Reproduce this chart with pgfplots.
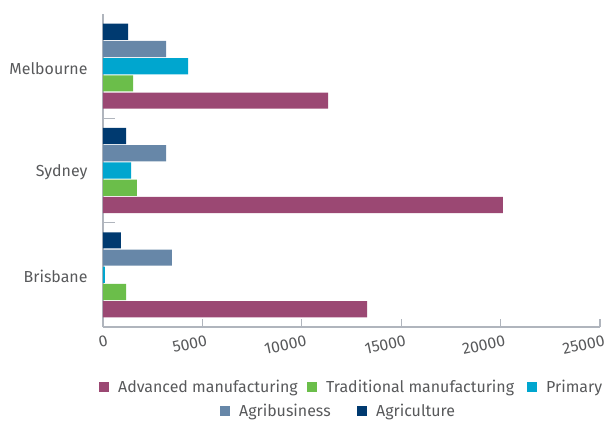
\documentclass[border=0pt]{standalone}
\usepackage{pgfplots}
\pgfplotsset{compat=1.18}
\usepackage{fontspec}
\setmainfont{Fira Sans}
\definecolor{cadv}{RGB}{155,72,115}
\definecolor{ctrad}{RGB}{107,190,74}
\definecolor{cprim}{RGB}{0,166,207}
\definecolor{cagb}{RGB}{103,135,168}
\definecolor{cagr}{RGB}{0,58,112}
\definecolor{ctext}{RGB}{88,89,91}
\definecolor{caxis}{RGB}{176,181,189}
\begin{document}
\begin{tikzpicture}
\begin{axis}[
  at={(0,0)}, anchor=south west,
  scale only axis, width=497bp, height=313bp,
  xbar, bar width=0.155,
  xmin=0, xmax=25000,
  ymin=-0.5, ymax=2.5,
  axis x line*=bottom, axis y line*=left,
  axis line style={caxis, line width=1.2pt},
  every tick/.style={caxis, line width=1.2pt},
  tick align=inside,
  major tick length=12bp,
  xtick=\empty,
  extra x ticks={0,5000,10000,15000,20000,25000},
  extra x tick style={major tick length=8bp, tick style={caxis, line width=1.2pt},
    xticklabel style={rotate=12, anchor=north east, xshift=5bp, yshift=-5bp, font=\fontsize{16}{19}\selectfont, text=ctext}},
  scaled x ticks=false,
  /pgf/number format/assume math mode=true,
  /pgf/number format/set thousands separator={},
  ytick={0.5,1.5},
  yticklabels={},
  extra y ticks={0,1,2},
  extra y tick labels={Brisbane,Sydney,Melbourne},
  extra y tick style={tick style={draw=none}, yticklabel style={font=\fontsize{16}{19}\selectfont, text=ctext, xshift=-12bp, yshift=-2bp}},
  clip=false,
]
\addplot[fill=cadv, draw=none, bar shift=-0.33] coordinates {(13280,0) (20120,1) (11320,2)};
\addplot[fill=ctrad, draw=none, bar shift=-0.165] coordinates {(1160,0) (1710,1) (1510,2)};
\addplot[fill=cprim, draw=none, bar shift=0] coordinates {(100,0) (1410,1) (4280,2)};
\addplot[fill=cagb, draw=none, bar shift=0.165] coordinates {(3470,0) (3170,1) (3170,2)};
\addplot[fill=cagr, draw=none, bar shift=0.33] coordinates {(905,0) (1160,1) (1260,2)};
\end{axis}
\begin{scope}[every node/.style={anchor=base west, inner sep=0pt, text=ctext, font=\fontsize{16}{19}\selectfont}]
\node at (-4bp,-65bp) {\textcolor{cadv}{\rule{10bp}{10bp}}\hspace{9bp}Advanced manufacturing};
\node at (204bp,-65bp) {\textcolor{ctrad}{\rule{10bp}{10bp}}\hspace{9bp}Traditional manufacturing};
\node at (424bp,-65bp) {\textcolor{cprim}{\rule{10bp}{10bp}}\hspace{9bp}Primary};
\node at (117bp,-89bp) {\textcolor{cagb}{\rule{10bp}{10bp}}\hspace{9bp}Agribusiness};
\node at (254bp,-89bp) {\textcolor{cagr}{\rule{10bp}{10bp}}\hspace{9bp}Agriculture};
\end{scope}
\pgfresetboundingbox
\path[use as bounding box] (-103bp,-94bp) rectangle (504bp,327bp);
\end{tikzpicture}
\end{document}
